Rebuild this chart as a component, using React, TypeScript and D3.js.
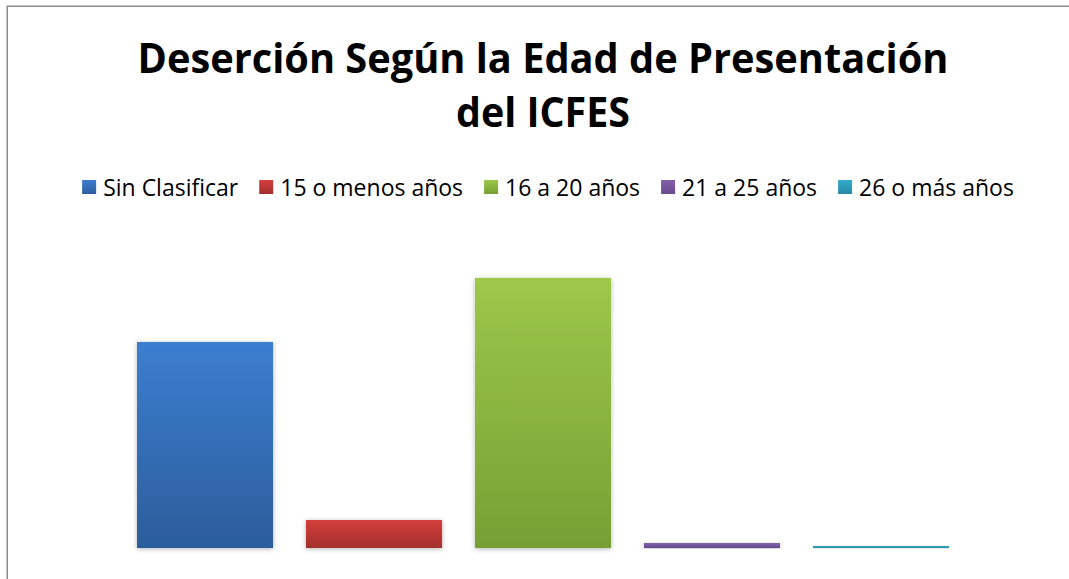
import * as d3 from "d3";
import React, { useEffect, useRef } from "react";

const series = ["Sin Clasificar", "15 o menos años", "16 a 20 años", "21 a 25 años", "26 o más años"];
const values = [2060, 280, 2700, 50, 20];
const colorTop = ["#3C7ED0", "#D4403B", "#9DC84A", "#8361AC", "#35ACCB"];
const colorBottom = ["#2C5D9B", "#A32F2D", "#76A034", "#674A8E", "#2A8AA6"];
const titleLines = ["Deserción Según la Edad de Presentación", "del ICFES"];

export default function App() {
  const svgRef = useRef<SVGSVGElement>(null);

  useEffect(() => {
    const svg = d3.select(svgRef.current);
    svg.selectAll("*").remove();

    const width = 1069;
    const height = 579;
    const font = "'Open Sans', 'Noto Sans', sans-serif";

    const defs = svg.append("defs");
    series.forEach((s, i) => {
      const grad = defs.append("linearGradient")
        .attr("id", `grad${i}`)
        .attr("x1", 0).attr("y1", 0).attr("x2", 0).attr("y2", 1);
      grad.append("stop").attr("offset", "0%").attr("stop-color", colorTop[i]);
      grad.append("stop").attr("offset", "100%").attr("stop-color", colorBottom[i]);
    });
    const shadow = defs.append("filter").attr("id", "shadow")
      .attr("x", "-20%").attr("y", "-20%").attr("width", "140%").attr("height", "140%");
    shadow.append("feDropShadow")
      .attr("dx", 0).attr("dy", 1).attr("stdDeviation", 2.5)
      .attr("flood-color", "#000").attr("flood-opacity", 0.3);

    svg.append("rect").attr("width", width).attr("height", height).attr("fill", "#fff");

    // Chart frame (extends past the window on right and bottom)
    svg.append("rect")
      .attr("x", 7.25).attr("y", 6.25)
      .attr("width", width + 20).attr("height", height + 20)
      .attr("fill", "none")
      .attr("stroke", "#8a8a8a")
      .attr("stroke-width", 1.5);

    // Title
    const titleY = [73, 127];
    titleLines.forEach((t, i) => {
      const txt = svg.append("text")
        .attr("x", 543)
        .attr("y", titleY[i])
        .attr("text-anchor", "middle")
        .style("font-family", font)
        .style("font-weight", "bold")
        .style("font-size", "41px")
        .attr("fill", "#000")
        .text(t);
      const target = i === 0 ? 811 : 174;
      const w = (txt.node() as SVGTextElement).getComputedTextLength();
      if (w > target) txt.attr("textLength", target).attr("lengthAdjust", "spacingAndGlyphs");
    });

    // Legend
    const legend = svg.append("g");
    let x = 0;
    const sq = 14;
    series.forEach((s, i) => {
      const item = legend.append("g").attr("transform", `translate(${x},0)`);
      item.append("rect")
        .attr("x", 0).attr("y", 180)
        .attr("width", sq).attr("height", sq)
        .attr("fill", `url(#grad${i})`);
      const txt = item.append("text")
        .attr("x", sq + 7)
        .attr("y", 196)
        .style("font-family", font)
        .style("font-size", "23px")
        .attr("fill", "#000")
        .text(s);
      const w = (txt.node() as SVGTextElement).getComputedTextLength();
      x += sq + 7 + w + 21;
    });
    const legendWidth = x - 21;
    legend.attr("transform", `translate(${548 - legendWidth / 2},0)`);

    // Scales
    const xScale = d3.scaleBand()
      .domain(series)
      .range([38, 1048])
      .paddingInner(0.195)
      .paddingOuter(0.586);

    const yScale = d3.scaleLinear()
      .domain([0, 3000])
      .range([548, 248]);

    // Bars
    svg.append("g")
      .selectAll("rect")
      .data(values)
      .join("rect")
      .attr("x", (d, i) => xScale(series[i]) as number)
      .attr("y", d => yScale(d))
      .attr("width", xScale.bandwidth())
      .attr("height", d => yScale(0) - yScale(d))
      .attr("fill", (d, i) => `url(#grad${i})`)
      .attr("filter", "url(#shadow)");

    // Baseline
    svg.append("line")
      .attr("x1", 38).attr("x2", 1048)
      .attr("y1", yScale(0) + 0.75).attr("y2", yScale(0) + 0.75)
      .attr("stroke", "#8c8c8c")
      .attr("stroke-width", 1.5)
      .attr("filter", "url(#shadow)");
  }, []);

  return (
    <svg
      ref={svgRef}
      width={1069}
      height={579}
      style={{ position: "absolute", left: 0, top: 0, display: "block" }}
    ></svg>
  );
}
